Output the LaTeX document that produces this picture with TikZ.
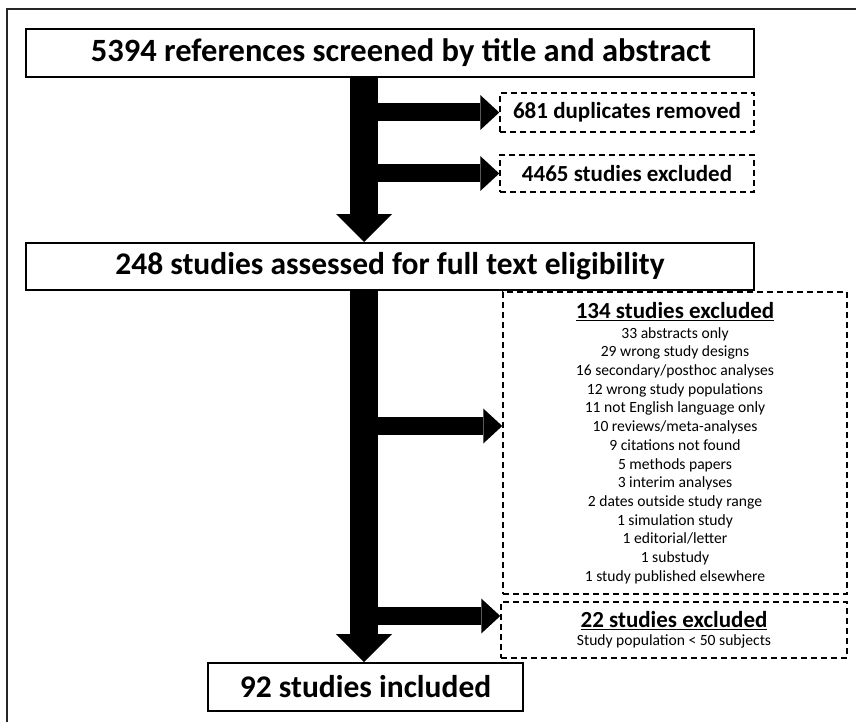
\documentclass[tikz,border=0pt]{standalone}
\usepackage{fontspec}
\setmainfont{Carlito}
\usetikzlibrary{arrows.meta}

\newcommand{\bigfont}{\bfseries\fontsize{31.5}{36}\selectfont}
\newcommand{\midfont}{\bfseries\fontsize{23}{27}\selectfont}
\newcommand{\listfont}{\fontsize{15.6}{18.7}\selectfont}

\tikzset{
  box/.style={draw, line width=2pt, inner sep=0pt, font=\bigfont},
  dbox/.style={draw, line width=1.5pt, dash pattern=on 6pt off 4pt, inner sep=0pt, align=center},
  bigarrow/.style={line width=28pt, -{Triangle[length=28pt,width=56pt,line width=0pt]}},
  sidearrow/.style={line width=18pt, -{Triangle[length=19pt,width=35pt,line width=0pt]}},
  frame/.style={line width=1.5pt, draw=black!85}
}

\begin{document}
\begin{tikzpicture}[x=1pt,y=-1pt]
\useasboundingbox (0,0) rectangle (856,722);

% outer frame
\draw[frame] (7,722) -- (7,9) -- (856,9);

% main boxes
\node[box, minimum width=728pt, minimum height=48pt, font=\bfseries\fontsize{32.5}{37}\selectfont] (refs) at (390,53) {\hspace*{22pt}5394 references screened by title and abstract};
\node[box, minimum width=728pt, minimum height=47pt] (assessed) at (390,266.5) {248 studies assessed for full text eligibility};
\node[box, minimum width=315pt, minimum height=48pt] (incl) at (365.5,687) {92 studies included};

% exclusion boxes
\node[dbox, minimum width=254pt, minimum height=39pt, font=\midfont] (dup) at (627,112.5) {681 duplicates removed};
\node[dbox, minimum width=254pt, minimum height=37pt, font=\midfont] (excla) at (627,173.5) {4465 studies excluded};
\node[dbox, minimum width=344pt, minimum height=302pt, font=\listfont] (exclb) at (675,443) {%
  {\midfont\underline{134 studies excluded}}\\[1pt]
  33 abstracts only\\
  29 wrong study designs\\
  16 secondary/posthoc analyses\\
  12 wrong study populations\\
  11 not English language only\\
  10 reviews/meta-analyses\\
  9 citations not found\\
  5 methods papers\\
  3 interim analyses\\
  2 dates outside study range\\
  1 simulation study\\
  1 editorial/letter\\
  1 substudy\\
  1 study published elsewhere};
\node[dbox, minimum width=346pt, minimum height=56pt, font=\listfont] (exclc) at (674,630) {%
  {\midfont\underline{22 studies excluded}}\\[-1pt]
  Study population {\textless} 50 subjects};

% arrows
\coordinate (top) at (364,77);
\coordinate (mid) at (364,290);
\draw[bigarrow] (top) -- (top |- assessed.north);
\draw[sidearrow] (top |- dup.west) -- (dup.west);
\draw[sidearrow] (top |- excla.west) -- (excla.west);
\draw[bigarrow] (mid) -- (mid |- incl.north);
\draw[sidearrow] (mid |- 0,426) -- (exclb.west |- 0,426);
\draw[sidearrow] (mid |- 0,616) -- (exclc.west |- 0,616);
\end{tikzpicture}
\end{document}
